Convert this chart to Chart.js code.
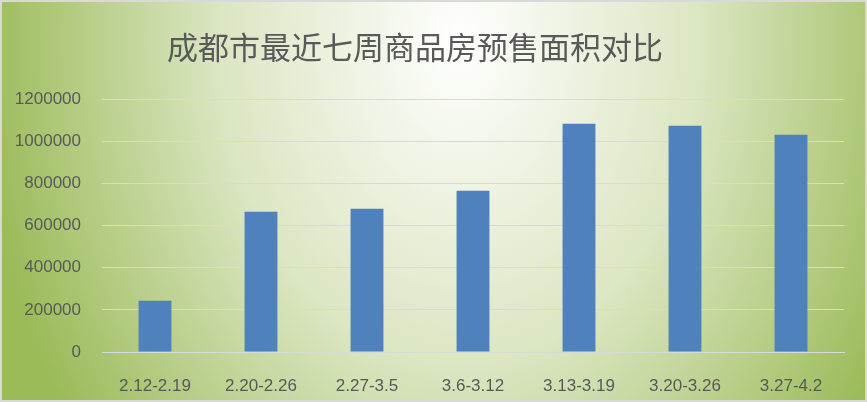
<!DOCTYPE html>
<html>
<head>
<meta charset="utf-8">
<script src="https://cdn.jsdelivr.net/npm/chart.js@4/dist/chart.umd.min.js"></script>
<style>
  html, body { margin: 0; padding: 0; background: #fff; }
  #wrap { width: 867px; height: 402px; }
</style>
</head>
<body>
<div id="wrap"><canvas id="chart" width="867" height="402"></canvas></div>
<script>
const chartTitle = "成都市最近七周商品房预售面积对比";
const weeks = ["2.12-2.19", "2.20-2.26", "2.27-3.5", "3.6-3.12", "3.13-3.19", "3.20-3.26", "3.27-4.2"];
const presaleArea = [243500, 665600, 679800, 764600, 1082800, 1073400, 1030600];
const yTicks = [0, 200000, 400000, 600000, 800000, 1000000, 1200000];

// green radial background, title and thin grey frame, like the Office chart area
const backdrop = {
  id: "backdrop",
  beforeDraw(chart) {
    const ctx = chart.ctx;
    const w = chart.width, h = chart.height;
    const rx = 480, ry = 650;
    ctx.save();
    ctx.translate(460, 40);
    ctx.scale(1, ry / rx);
    const g = ctx.createRadialGradient(0, 0, 0, 0, 0, rx);
    g.addColorStop(0, "#ffffff");
    g.addColorStop(0.5, "#dbe6c2");
    g.addColorStop(1, "#9bbb59");
    ctx.fillStyle = g;
    ctx.fillRect(-460, -40 * rx / ry, w, h * rx / ry);
    ctx.restore();

    ctx.save();
    ctx.fillStyle = "#595959";
    ctx.font = "31px 'Noto Sans CJK SC', 'Noto Sans', sans-serif";
    ctx.textAlign = "center";
    ctx.textBaseline = "middle";
    ctx.fillText(chartTitle, 415, 47);
    ctx.restore();
  },
  afterDraw(chart) {
    const ctx = chart.ctx;
    ctx.save();
    ctx.strokeStyle = "#d9d9d9";
    ctx.lineWidth = 2;
    ctx.strokeRect(1, 1, chart.width - 2, chart.height - 2);
    ctx.restore();
  }
};

new Chart(document.getElementById("chart"), {
  type: "bar",
  data: {
    labels: weeks,
    datasets: [{
      data: presaleArea,
      backgroundColor: "#4f81bd",
      borderWidth: 0,
      barPercentage: 0.62,
      categoryPercentage: 0.5
    }]
  },
  options: {
    responsive: false,
    animation: false,
    layout: { padding: { left: 0, right: 23, top: 99, bottom: 0 } },
    plugins: {
      legend: { display: false },
      tooltip: { enabled: false },
      title: { display: false }
    },
    scales: {
      x: {
        grid: { display: false },
        border: { display: true, color: "#d9d9d9", width: 1 },
        ticks: {
          color: "#595959",
          font: { family: "'Liberation Sans', Arial, sans-serif", size: 17 },
          padding: 16,
          maxRotation: 0
        },
        afterFit(scale) { scale.height = 50; }
      },
      y: {
        min: 0,
        max: 1200000,
        afterBuildTicks(scale) { scale.ticks = yTicks.map(v => ({ value: v })); },
        grid: { color: "#d9d9d9", lineWidth: 1, drawTicks: false },
        border: { display: false },
        ticks: {
          color: "#595959",
          font: { family: "'Liberation Sans', Arial, sans-serif", size: 17 },
          padding: 21,
          callback: v => String(v)
        },
        afterFit(scale) { scale.width = 102; }
      }
    }
  },
  plugins: [backdrop]
});
</script>
</body>
</html>
